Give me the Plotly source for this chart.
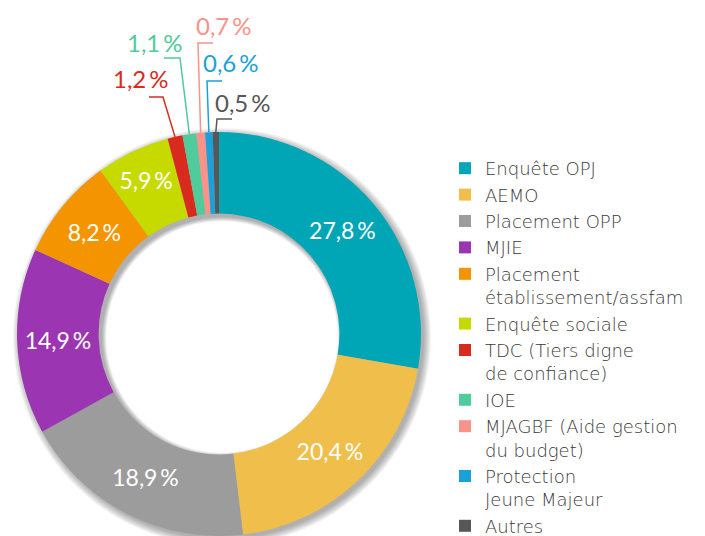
import math
import plotly.graph_objects as go

# --- data -------------------------------------------------------------
categories = [
    "Enquête OPJ",
    "AEMO",
    "Placement OPP",
    "MJIE",
    "Placement<br>établissement/assfam",
    "Enquête sociale",
    "TDC (Tiers digne<br>de confiance)",
    "IOE",
    "MJAGBF (Aide gestion<br>du budget)",
    "Protection<br>Jeune Majeur",
    "Autres",
]
shares = [27.8, 20.4, 18.9, 14.9, 8.2, 5.9, 1.2, 1.1, 0.7, 0.6, 0.5]
colors = [
    "#00a6b6", "#f0be4b", "#9c9c9c", "#9c35b1", "#f39400", "#c6da00",
    "#d92b1d", "#4fcb9c", "#f8938a", "#1aa1d9", "#575757",
]

# --- canvas / layout constants ----------------------------------------
W, H = 705, 536
CX, CYB, R = 219, 202, 202         # donut centre (x from left, y from bottom) and outer radius (px)
HOLE = 0.596
R_IN = R * HOLE
SMALL = 2.0                         # slices below this get an outside callout
CY = H - CYB                        # centre y from top

def pct(v):
    return f"{v:.1f}".replace(".", ",") + "\u2009%"

inside_text = [pct(v) if v >= SMALL else "" for v in shares]

# callout geometry for the small slices: elbow point, end of the tick, text side
callouts = {
    6:  dict(elbow=(163, 97), tick=149, side="left",  ty=78),
    7:  dict(elbow=(180, 58), tick=164, side="left",  ty=42),
    8:  dict(elbow=(198, 43), tick=213, side="right", ty=25),
    9:  dict(elbow=(207, 81), tick=222, side="right", ty=63),
    10: dict(elbow=(217, 119), tick=232, side="right", ty=103),
}
callout_shift = {6: 3, 7: 2, 8: 0, 9: -2, 10: 0}

def px(x):
    return x / W

def py(y):
    return 1 - y / H

def circle_path(cx, cy, r, n=180):
    pts = []
    for k in range(n):
        a = 2 * math.pi * k / n
        pts.append(f"{px(cx + r * math.cos(a)):.5f},{py(cy + r * math.sin(a)):.5f}")
    return "M " + " L ".join(pts) + " Z"

fig = go.Figure()

fig.add_trace(go.Pie(
    labels=categories,
    values=shares,
    text=inside_text,
    textinfo="text",
    textposition="inside",
    insidetextorientation="horizontal",
    textfont=dict(family="Lato", size=23, color="white"),
    sort=False,
    direction="clockwise",
    rotation=0,
    hole=HOLE,
    marker=dict(colors=colors, line=dict(width=0)),
    domain=dict(x=[px(CX - R), px(CX + R)], y=[(CYB - R) / H, (CYB + R) / H]),
    hoverinfo="label+percent",
))

shapes, annotations = [], []

# soft drop shadow under the ring (stacked translucent annuli, offset down-right)
SDX, SDY = 3, 3
for s in range(1, 9):
    ring = (circle_path(CX + SDX, CY + SDY, R + s - 1)
            + " " + circle_path(CX + SDX, CY + SDY, R_IN - 0.6 * s))
    shapes.append(dict(type="path", xref="paper", yref="paper", path=ring,
                       fillrule="evenodd", fillcolor="rgba(0,0,0,0.045)",
                       line=dict(width=0), layer="below"))

# outside callouts with elbow leader lines
total = sum(shares)
cum = 0.0
for i, v in enumerate(shares):
    mid = (cum + v / 2) / total * 2 * math.pi
    cum += v
    if i not in callouts:
        continue
    c = callouts[i]
    sx, sy = CX + R * math.sin(mid), CY - R * math.cos(mid)
    ex, ey = c["elbow"]
    path = (f"M {px(sx)},{py(sy)} L {px(ex)},{py(ey)} "
            f"L {px(c['tick'])},{py(ey)}")
    shapes.append(dict(type="path", xref="paper", yref="paper", path=path,
                       line=dict(color=colors[i], width=1.5)))
    if c["side"] == "left":
        tx, xa = c["tick"] + 19, "right"
    else:
        tx, xa = ex - 4, "left"
    annotations.append(dict(
        x=px(tx + callout_shift[i]), y=py(c["ty"]), xref="paper", yref="paper",
        text=pct(v), showarrow=False, xanchor=xa, yanchor="middle",
        font=dict(family="Lato", size=24, color=colors[i]),
    ))

fig.update_layout(
    width=W, height=H,
    margin=dict(l=0, r=0, t=0, b=0, autoexpand=False),
    paper_bgcolor="white",
    plot_bgcolor="white",
    shapes=shapes,
    annotations=annotations,
    showlegend=True,
    legend=dict(
        x=px(445), y=py(150), xanchor="left", yanchor="top",
        valign="top",
        font=dict(family="DejaVu Sans", size=18, color="#3a3a3a", weight=300),
        bgcolor="rgba(0,0,0,0)",
        tracegroupgap=0,
    ),
)

fig.write_html("out.html")
